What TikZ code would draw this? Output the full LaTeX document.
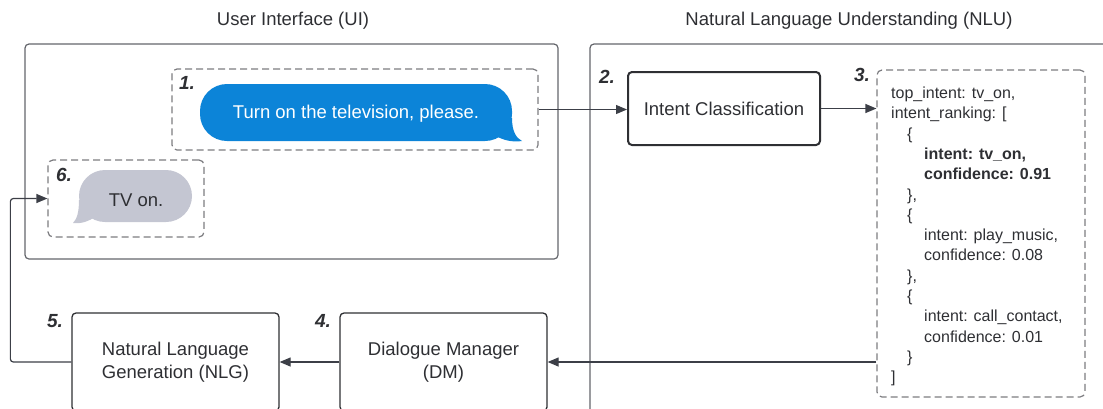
\documentclass[tikz,border=0pt]{standalone}
\usepackage{fontspec}
\setmainfont{Liberation Sans}
\usetikzlibrary{arrows.meta}
\definecolor{txt}{HTML}{2E2F33}
\definecolor{frame}{HTML}{64666C}
\definecolor{dashc}{HTML}{7C7C80}
\definecolor{bubblue}{HTML}{0C84D8}
\definecolor{bubgrey}{HTML}{C4C6D2}
\definecolor{arr}{HTML}{3C3F47}
\begin{document}
\begin{tikzpicture}[x=1pt,y=-1pt, font=\fontsize{18.5}{23}\selectfont, text=txt,
 container/.style={draw=frame, line width=1.2pt, rounded corners=4pt, inner sep=0pt},
 dashbox/.style={draw=dashc, line width=1.2pt, dash pattern=on 7pt off 4pt, rounded corners=5pt, inner sep=0pt},
 procbox/.style={draw=txt, line width=1.3pt, rounded corners=4pt, align=center, inner sep=0pt},
 steplabel/.style={font=\fontsize{19}{23}\selectfont\bfseries\itshape, inner sep=0pt},
 jsontext/.style={font=\fontsize{16}{20}\selectfont, anchor=base west, inner sep=0pt},
 flow/.style={draw=arr, line width=1.2pt, -{Triangle[length=11pt,width=9pt]}},
]
\useasboundingbox (0,0) rectangle (1103,408);

% titles
\node (uititle) at (293,21) {User Interface (UI)};
\node (nlutitle) at (849,21) {Natural Language Understanding (NLU)};

% containers
\node[container, minimum width=533pt, minimum height=215pt] (ui) at (291.5,151.5) {};
\node[container, minimum width=530pt, minimum height=381pt] (nlu) at (855,234.5) {};

% dashed boxes
\node[dashbox, minimum width=366pt, minimum height=81pt] (b1) at (355,109.5) {};
\node[dashbox, minimum width=156pt, minimum height=77pt] (b6) at (126,198.5) {};
\node[dashbox, minimum width=208pt, minimum height=327pt] (json) at (981,233.5) {};

% process boxes
\node[procbox, line width=2pt, minimum width=192pt, minimum height=73pt] (ic) at (724,108.5) {Intent Classification};
\node[procbox, minimum width=207pt, minimum height=98pt] (dm) at (443.5,362) {Dialogue Manager\\(DM)};
\node[procbox, minimum width=207pt, minimum height=98pt] (nlg) at (175.5,362) {Natural Language\\Generation (NLG)};

% blue bubble
\fill[bubblue, rounded corners=27pt] (200,84) rectangle (512,141);
\fill[bubblue] (496,118) -- (512,118) .. controls (512,131) and (516,138) .. (522,141) .. controls (512,142.5) and (503,140) .. (496,136) -- cycle;
\node[text=white, anchor=base, inner sep=0pt] (t1) at (356,118.6) {Turn on the television, please.};

% grey bubble
\fill[bubgrey, rounded corners=26pt] (79,170) rectangle (192,222);
\fill[bubgrey] (95,200) -- (79,200) .. controls (79,212) and (77,219) .. (73,223) .. controls (82,224) and (89,221) .. (95,217) -- cycle;
\node[anchor=base, inner sep=0pt] (t6) at (136,206.6) {TV on.};

% step labels
\node[steplabel] (l1) at (187,83) {1.};
\node[steplabel] (l2) at (607,77) {2.};
\node[steplabel] (l3) at (862,75) {3.};
\node[steplabel] (l4) at (323,321) {4.};
\node[steplabel] (l5) at (55,321) {5.};
\node[steplabel] (l6) at (64,175) {6.};

% json text
\node[jsontext] (j0) at (891,98.5) {top\_intent: tv\_on,};
\node[jsontext] (j1) at (891,118.8) {intent\_ranking: [};
\node[jsontext] (j2) at (907,139.1) {\{};
\node[jsontext, font=\fontsize{16}{20}\selectfont\bfseries] (j3) at (924,159.4) {intent: tv\_on,};
\node[jsontext, font=\fontsize{16}{20}\selectfont\bfseries] (j4) at (924,179.7) {confidence: 0.91};
\node[jsontext] (j5) at (907,200.0) {\},};
\node[jsontext] (j6) at (907,220.3) {\{};
\node[jsontext] (j7) at (924,240.6) {intent: play\_music,};
\node[jsontext] (j8) at (924,260.9) {confidence: 0.08};
\node[jsontext] (j9) at (907,281.2) {\},};
\node[jsontext] (j10) at (907,301.5) {\{};
\node[jsontext] (j11) at (924,321.8) {intent: call\_contact,};
\node[jsontext] (j12) at (924,342.1) {confidence: 0.01};
\node[jsontext] (j13) at (907,362.4) {\}};
\node[jsontext] (j14) at (891,382.7) {]};

% connectors
\draw[flow] (b1.east) -- (b1.east -| ic.west);
\draw[flow] (ic.east) -- (ic.east -| json.west);
\draw[flow] (dm.east -| json.west) -- (dm.east);
\draw[flow] (dm.west) -- (nlg.east);
\draw[flow, rounded corners=3pt] (nlg.west) -- ++(-61,0) |- (b6.west);
\end{tikzpicture}
\end{document}
